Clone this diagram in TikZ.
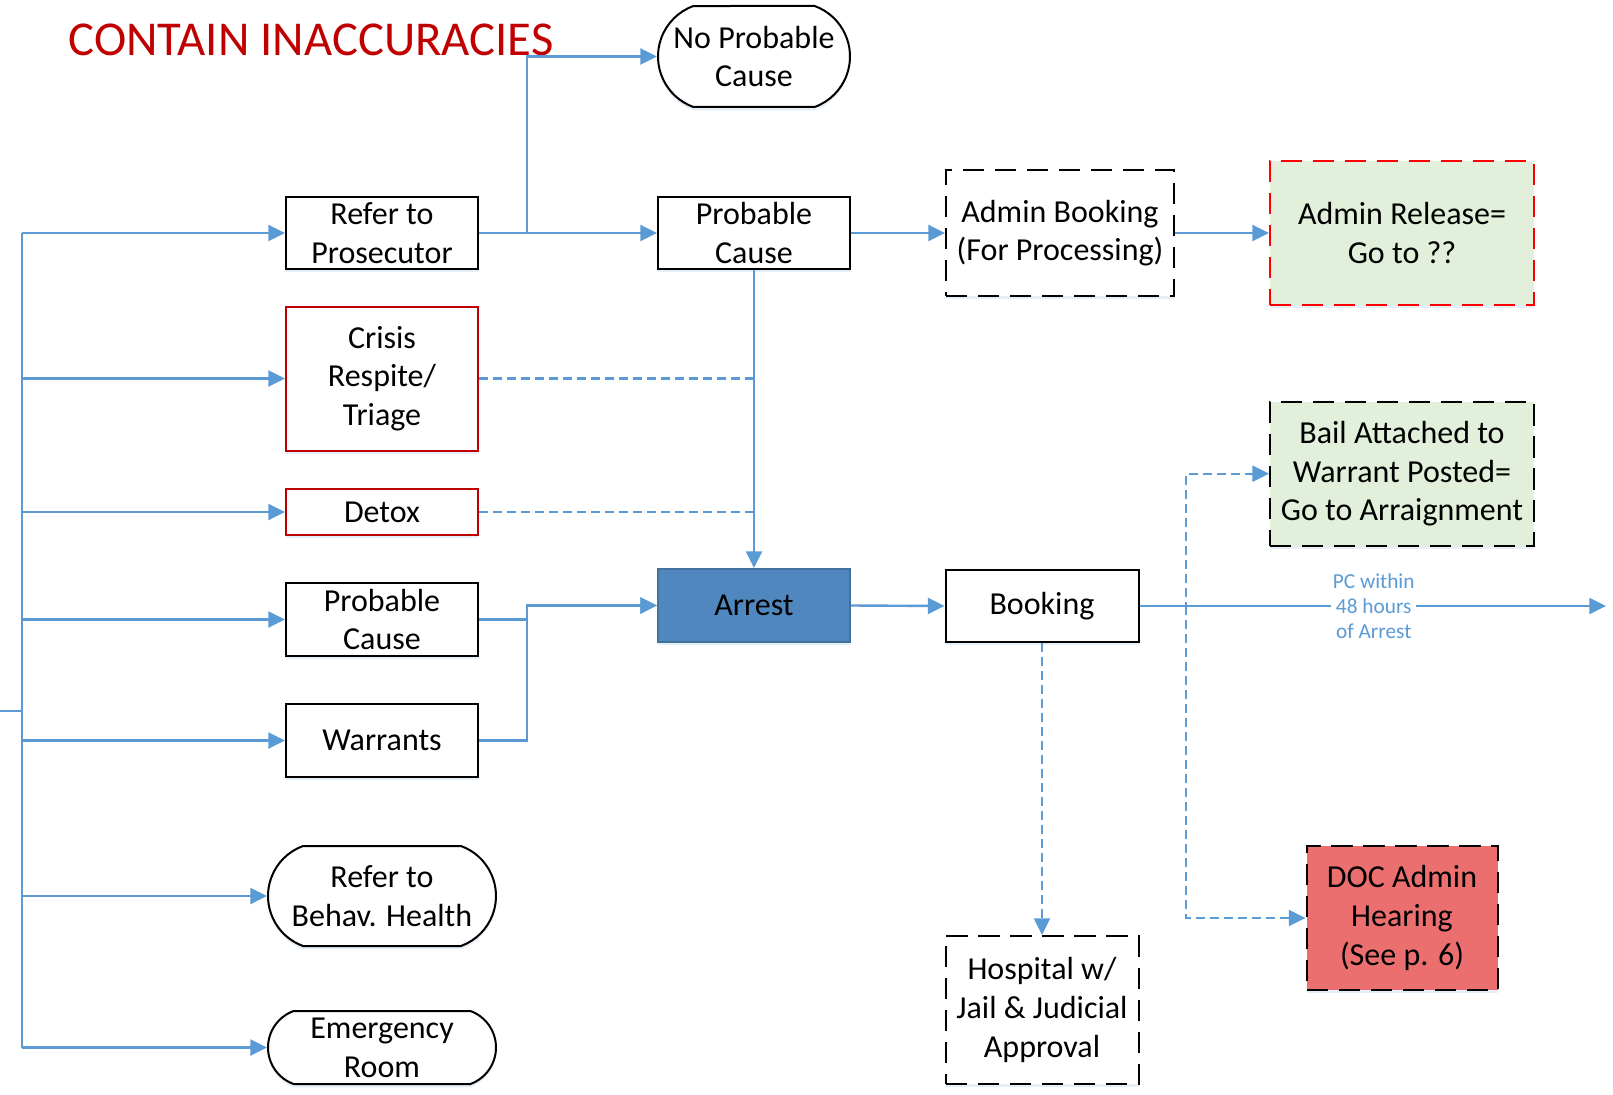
\documentclass[tikz,border=0pt]{standalone}
\usepackage{fontspec}
\setmainfont{Carlito}
\usetikzlibrary{arrows.meta,shapes.misc,shadows}
\definecolor{lb}{HTML}{5B9BD5}
\definecolor{titred}{HTML}{C00000}
\definecolor{boxred}{HTML}{C00000}
\definecolor{relred}{HTML}{FF0000}
\definecolor{lgreen}{HTML}{E2EFDA}
\definecolor{arrfill}{HTML}{4F87BE}
\definecolor{arrdraw}{HTML}{41719C}
\definecolor{docfill}{HTML}{EC6F6F}
\begin{document}
\begin{tikzpicture}[x=0.75pt,y=-0.75pt,
  font=\fontsize{24}{29}\selectfont,
  shad/.style={drop shadow={shadow xshift=0pt,shadow yshift=-2.5pt,fill=lb!45,opacity=0.35}},
  box/.style={draw=black, line width=1.5pt, fill=white, align=center, inner sep=0pt, shad},
  redbox/.style={box, draw=boxred},
  dbox/.style={box, dash pattern=on 16pt off 8pt},
  stad/.style={box, rounded rectangle, rounded rectangle arc length=140},
  conn/.style={draw=lb, line width=1.8pt},
  arr/.style={conn, -{Triangle[length=12.5pt,width=12pt]}},
  dconn/.style={conn, line width=1.6pt, dash pattern=on 6.5pt off 4pt},
  darr/.style={dconn, -{Triangle[length=12.5pt,width=12pt]}},
  low/.style={text depth=0pt, yshift=0pt},
]
\useasboundingbox (0,0) rectangle (1613,1095);

\node[text=titred, font=\fontsize{36.5}{42}\selectfont] (title) at (311,40) {CONTAIN INACCURACIES};

\node[stad, minimum width=144pt, minimum height=75.75pt] (npc) at (754,56.5) {No Probable\\Cause};
\node[box, minimum width=144pt, minimum height=54pt] (pros) at (382,233) {Refer to\\Prosecutor};
\node[box, minimum width=144pt, minimum height=54pt] (pct) at (754,233) {Probable\\Cause};
\node[dbox, minimum width=171pt, minimum height=94.5pt] (ab) at (1060,233) {Admin Booking\\(For Processing)};
\node[dbox, draw=relred, fill=lgreen, minimum width=198pt, minimum height=108pt] (ar) at (1402,233) {Admin Release=\\Go to ??};
\node[redbox, minimum width=144pt, minimum height=108pt] (crisis) at (382,378.5) {Crisis\\Respite/\\Triage};
\node[redbox, minimum width=144pt, minimum height=34.5pt] (detox) at (382,512) {Detox};
\node[dbox, fill=lgreen, minimum width=198pt, minimum height=108pt] (bail) at (1402,473.7) {Bail Attached to\\Warrant Posted=\\Go to Arraignment};
\node[box, minimum width=144pt, minimum height=54.75pt] (pcl) at (382,619.5) {Probable\\Cause};
\node[box, draw=arrdraw, fill=arrfill, minimum width=144pt, minimum height=54.75pt] (arrest) at (754,605.5) {Arrest};
\node[box, minimum width=144.75pt, minimum height=54pt] (booking) at (1042,606) {Booking};
\node[box, minimum width=144pt, minimum height=54.75pt] (warr) at (382,740.5) {Warrants};
\node[stad, minimum width=171pt, minimum height=75pt] (bh) at (382,896) {Refer to\\Behav. Health};
\node[stad, minimum width=171pt, minimum height=54.75pt] (er) at (382,1047.5) {Emergency\\Room};
\node[dbox, minimum width=144.75pt, minimum height=111pt] (hosp) at (1042,1010) {Hospital w/\\Jail \& Judicial\\Approval};
\node[dbox, fill=docfill, minimum width=143.25pt, minimum height=108pt] (doc) at (1402,918) {DOC Admin\\Hearing\\(See p. 6)};

% left trunk
\coordinate (tr) at (22,0);
\coordinate (s0) at (0,711);
\coordinate (s1) at (22,711);
\draw[conn] (pros.west -| tr) -- (er.west -| tr);
\draw[conn] (s0) -- (s1);
\foreach \n in {pros,crisis,detox,pcl,warr,bh,er}
  \draw[arr] (\n.west -| tr) -- (\n.west);

% top
\draw[arr] (pros.east) -- (pct.west);
\draw[arr] (pros.east) -- ++(48,0) |- (npc.west);
\draw[arr] (pct.east) -- (ab.west);
\draw[arr] (ab.east) -- (ar.west);
\draw[arr] (pct.south) -- (arrest.north);
\draw[dconn] (crisis.east) -- (crisis.east -| arrest.north);
\draw[dconn] (detox.east) -- (detox.east -| arrest.north);
\draw[arr] (pcl.east) -- ++(48,0) |- (arrest.west);
\draw[arr] (warr.east) -- ++(48,0) |- (arrest.west);
\draw[arr] (arrest.east) -- (booking.west);

% right
\coordinate (endr) at (1606,606);
\coordinate (jd) at (1186,606);
\draw[arr] (booking.east) -- (endr)
  node[pos=0.502, fill=white, inner sep=1pt, text=lb, align=center, font=\fontsize{16}{19}\selectfont] (pc) {PC within\\48 hours\\of Arrest};
\draw[darr] (booking.east) -- (jd) |- (bail.west);
\draw[darr] (jd) |- (doc.west);
\draw[darr] (booking.south) -- (hosp.north);
\end{tikzpicture}
\end{document}
